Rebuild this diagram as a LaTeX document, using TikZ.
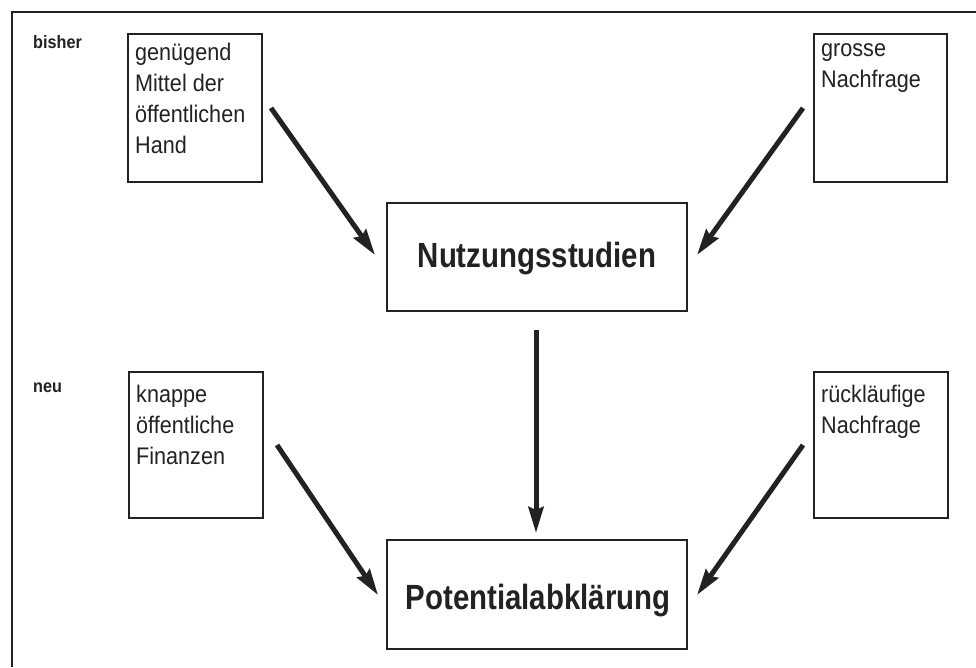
\documentclass[tikz,border=0pt]{standalone}
\usepackage{fontspec}
\setmainfont{Liberation Sans}[FakeStretch=0.9]
\newfontfamily\titlefont{Liberation Sans}[FakeStretch=0.84, BoldFont={* Bold}]
\usetikzlibrary{arrows.meta}
\definecolor{ink}{HTML}{222222}
\begin{document}
\begin{tikzpicture}[x=1pt,y=-1pt,
  frame/.style={draw=ink, line width=1.3pt},
  srcbox/.style={draw=ink, line width=1.3pt, rectangle, inner sep=0pt},
  mainbox/.style={draw=ink, line width=1.4pt, rectangle, inner sep=0pt, minimum width=300pt},
  srctext/.style={anchor=north west, inner sep=0pt, align=left, text=ink,
     font=\fontsize{24}{31}\selectfont, execute at begin node=\strut},
  titletext/.style={anchor=base, inner sep=0pt, text=ink,
     font=\titlefont\bfseries\fontsize{35}{40}\selectfont},
  sidelabel/.style={anchor=base west, inner sep=0pt, text=ink,
     font=\bfseries\fontsize{18}{20}\selectfont},
  flow/.style={draw=ink, line width=5pt, -{Stealth[length=26pt,width=15pt,inset=3pt]}}
]
\useasboundingbox (0,0) rectangle (976,667);
\fill[white] (0,0) rectangle (976,667);
% outer frame (top and left edges visible)
\coordinate (fTL) at (12,12);
\coordinate (fTR) at (976,12);
\coordinate (fBL) at (12,667);
\draw[frame] (fTR) -- (fTL) -- (fBL);

% side labels
\node[sidelabel] (bisher) at (33,48) {bisher};
\node[sidelabel] (neu) at (33,392) {neu};

% source boxes
\node[srcbox, minimum width=134pt, minimum height=148pt] (b1) at (195,108) {};
\node[srcbox, minimum width=133pt, minimum height=148pt] (b2) at (880.5,108) {};
\node[srcbox, minimum width=134pt, minimum height=146pt] (b3) at (196,445) {};
\node[srcbox, minimum width=134pt, minimum height=146pt] (b4) at (881,445) {};

\node[srctext] (t1) at (135,65-21.7) {genügend\\Mittel der\\öffentlichen\\Hand};
\node[srctext] (t2) at (821,65-21.7) {grosse\\Nachfrage};
\node[srctext] (t3) at (136,407-21.7) {knappe\\öffentliche\\Finanzen};
\node[srctext] (t4) at (821,407-21.7) {rückläufige\\Nachfrage};

% main boxes
\node[mainbox, minimum height=108pt] (N) at (537,257) {};
\node[mainbox, minimum height=109pt] (P) at (537,594.5) {};
\node[titletext] (Nt) at (537,267) {Nutzungsstudien};
\node[titletext] (Pt) at (538,609) {Potentialabklärung};

% arrow end points
\coordinate (s1) at (271,108);
\coordinate (e1) at (375,255);
\coordinate (s2) at (803,108);
\coordinate (e2) at (697,255);
\coordinate (s3) at (536,330);
\coordinate (e3) at (536,533);
\coordinate (s4) at (277,445);
\coordinate (e4) at (378,595);
\coordinate (s5) at (803,445);
\coordinate (e5) at (697,595);

\draw[flow] (s1) -- (e1);
\draw[flow] (s2) -- (e2);
\draw[flow] (s3) -- (e3);
\draw[flow] (s4) -- (e4);
\draw[flow] (s5) -- (e5);
\end{tikzpicture}
\end{document}
